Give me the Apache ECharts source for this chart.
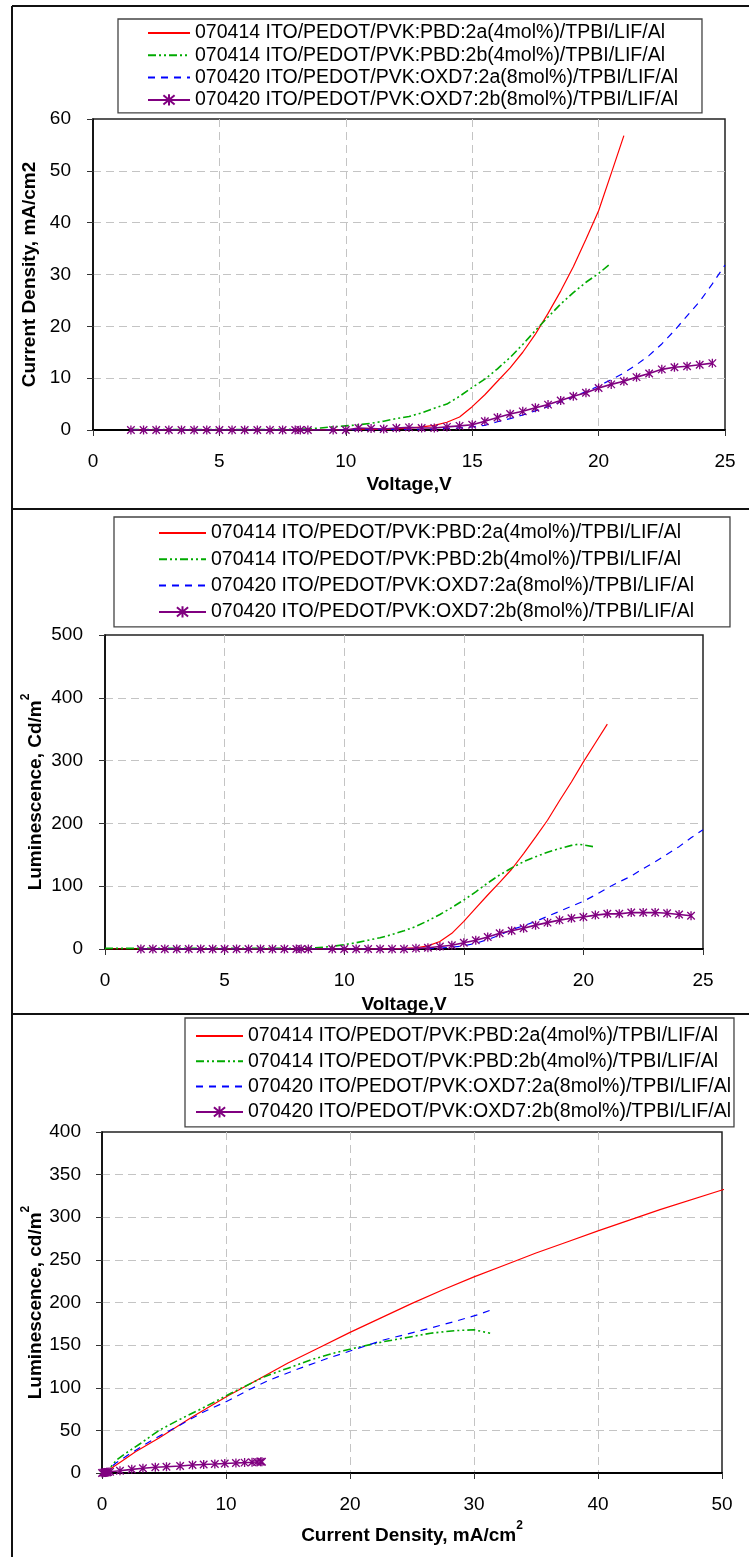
<!DOCTYPE html>
<html>
<head>
<meta charset="utf-8">
<script src="https://cdn.jsdelivr.net/npm/echarts/dist/echarts.min.js"></script>
<style>
  html, body { margin: 0; padding: 0; background: #fff; }
  #chart { width: 749px; height: 1557px; }
</style>
</head>
<body>
<div id="chart"></div>
<script>
// Device names (legend entries, shared by all three panels)
const deviceNames = [
  '070414 ITO/PEDOT/PVK:PBD:2a(4mol%)/TPBI/LIF/Al',
  '070414 ITO/PEDOT/PVK:PBD:2b(4mol%)/TPBI/LIF/Al',
  '070420 ITO/PEDOT/PVK:OXD7:2a(8mol%)/TPBI/LIF/Al',
  '070420 ITO/PEDOT/PVK:OXD7:2b(8mol%)/TPBI/LIF/Al'
];

// ---- Panel 1: current density (mA/cm2) vs voltage (V) ----
const jvRedV   = [1.5, 3, 5, 7, 8.5, 10, 11, 12, 12.5, 13, 13.5, 14, 14.5, 15, 15.5, 16, 16.5, 17, 17.5, 18, 18.5, 19, 19.5, 20, 20.5, 21];
const jvRedJ   = [0, 0, 0, 0, 0, 0.05, 0.1, 0.2, 0.35, 0.6, 0.9, 1.5, 2.5, 4.5, 6.8, 9.4, 12.0, 15.0, 18.5, 22.5, 26.8, 31.5, 36.8, 42.3, 49.5, 56.8];
const jvGreenV = [1.5, 3, 5, 7, 8.5, 9, 9.5, 10, 10.5, 11, 11.5, 12, 12.5, 13, 13.5, 14, 14.5, 15, 15.5, 16, 16.5, 17, 17.5, 18, 18.5, 19, 19.5, 20, 20.4];
const jvGreenJ = [0.1, 0.1, 0.1, 0.1, 0.2, 0.4, 0.6, 0.8, 1.0, 1.3, 1.7, 2.2, 2.6, 3.3, 4.2, 5.0, 6.5, 8.2, 9.8, 11.8, 14.0, 16.5, 19.2, 21.8, 24.3, 26.5, 28.5, 30.2, 31.8];
const jvBlueV  = [1.5, 3, 5, 7, 9, 11, 12, 13, 13.5, 14, 14.5, 15, 15.5, 16, 16.5, 17, 17.5, 18, 18.5, 19, 19.5, 20, 20.5, 21, 21.5, 22, 22.5, 23, 23.5, 24, 24.5, 25];
const jvBlueJ  = [0, 0, 0, 0, 0, 0.05, 0.1, 0.15, 0.2, 0.3, 0.4, 0.6, 0.9, 1.6, 2.2, 2.9, 3.7, 4.5, 5.4, 6.4, 7.4, 8.5, 9.7, 11.0, 12.6, 14.4, 16.6, 19.2, 22.0, 24.8, 28.2, 31.8];
const jvPurpleV = [1.5, 2, 2.5, 3, 3.5, 4, 4.5, 5, 5.5, 6, 6.5, 7, 7.5, 8, 8.2, 8.5, 9.5, 10, 10.5, 11, 11.5, 12, 12.5, 13, 13.5, 14, 14.5, 15, 15.5, 16, 16.5, 17, 17.5, 18, 18.5, 19, 19.5, 20, 20.5, 21, 21.5, 22, 22.5, 23, 23.5, 24, 24.5];
const jvPurpleJ = [0, 0, 0, 0, 0, 0, 0, 0, 0, 0, 0, 0, 0, 0, 0, 0, 0, 0, 0.4, 0.3, 0.2, 0.4, 0.5, 0.4, 0.4, 0.6, 0.8, 1.0, 1.7, 2.4, 3.1, 3.6, 4.3, 4.9, 5.7, 6.5, 7.2, 8.1, 8.8, 9.4, 10.2, 10.9, 11.7, 12.1, 12.3, 12.6, 12.9];

// ---- Panel 2: luminescence (cd/m2) vs voltage (V) ----
const lvRedV   = [0, 2, 4, 6, 8, 10, 11, 12, 12.5, 13, 13.5, 14, 14.5, 15, 15.5, 16, 16.5, 17, 17.5, 18, 18.5, 19, 19.5, 20, 20.5, 21];
const lvRedL   = [0, 0, 0, 0, 0, 0, 0, 0.5, 1, 2, 5, 12, 25, 44, 65, 86, 106, 127, 152, 178, 205, 236, 266, 298, 328, 358];
const lvGreenV = [0, 2, 4, 6, 8, 8.8, 9.5, 10, 10.5, 11, 11.5, 12, 12.5, 13, 13.5, 14, 14.5, 15, 15.5, 16, 16.5, 17, 17.5, 18, 18.5, 19, 19.5, 19.8, 20.4];
const lvGreenL = [1, 1, 1, 1, 1, 2, 4, 7, 10, 14, 18, 23, 29, 36, 45, 55, 66, 78, 91, 105, 118, 129, 139, 147, 154, 160, 165, 167, 163];
const lvBlueV  = [1.5, 4, 7, 10, 12, 13, 13.5, 14, 14.5, 15, 15.5, 16, 16.5, 17, 17.5, 18, 18.5, 19, 19.5, 20, 20.5, 21, 21.5, 22, 22.5, 23, 23.5, 24, 24.5, 25];
const lvBlueL  = [0, 0, 0, 0, 0, 0.5, 1, 1.5, 3, 5, 9, 15, 22, 31, 37, 44, 52, 60, 68, 76, 86, 97, 107, 116, 128, 139, 151, 163, 177, 190];
const lvPurpleV = jvPurpleV;
const lvPurpleL = [0, 0, 0, 0, 0, 0, 0, 0, 0, 0, 0, 0, 0, 0, 0, 0, 0, 0, 0, 0, 0, 0, 0, 1, 2, 4, 6, 10, 14, 19, 25, 29, 33, 38, 42, 46, 49, 51, 54, 56, 56, 58, 58, 58, 57, 55, 53];

// ---- Panel 3: luminescence (cd/m2) vs current density (mA/cm2) ----
const ljRedJ   = [0, 0.2, 0.6, 1.5, 2.7, 4.6, 7.3, 10.2, 12, 15, 17.5, 20, 22.5, 25, 27.5, 30, 32.5, 35, 37.5, 40, 45, 50, 56.8];
const ljRedL   = [0, 1, 4, 13, 25, 41, 66, 91, 105, 129, 147, 165, 182, 199, 215, 230, 244, 258, 271, 284, 309, 332, 358];
const ljGreenJ = [0, 0.2, 0.6, 1.15, 1.9, 3.1, 4.6, 6.15, 8.1, 10.4, 13.1, 15, 16.9, 18.8, 20.2, 22.7, 24.6, 26.5, 28.5, 30, 31.3];
const ljGreenL = [0, 1, 5, 15, 23, 34.6, 50, 62, 76, 93.5, 113, 123, 133, 141, 146, 154, 159, 164, 167, 168, 164];
const ljBlueJ  = [0, 0.4, 1.15, 2.3, 4.2, 6.15, 8.1, 10.2, 11.9, 13.5, 15.8, 18.1, 20.2, 22.7, 24.6, 26.5, 28.5, 30.4, 31.7];
const ljBlueL  = [0, 3, 12, 23, 40, 55, 71, 85, 98, 109, 122, 134, 144, 156, 163, 170, 178, 186, 193];
const ljPurpleJ = [0, 0.1, 0.2, 0.3, 0.4, 0.5, 0.65, 1.45, 2.4, 3.3, 4.3, 5.2, 6.3, 7.3, 8.2, 9.1, 9.9, 10.8, 11.5, 12.1, 12.5, 12.8, 12.9];
const ljPurpleL = [0, 0.3, 0.5, 0.7, 0.9, 1.1, 1.5, 2.7, 4.3, 5.5, 6.7, 7.4, 8.2, 9.4, 10.0, 10.6, 11.2, 11.8, 12.2, 12.6, 12.9, 13.1, 13.2];

// Axis tick settings
const voltTicks = { min: 0, max: 25, interval: 5 };
const jTicks    = { min: 0, max: 60, interval: 10 };
const lvTicks   = { min: 0, max: 500, interval: 100 };
const ljXTicks  = { min: 0, max: 50, interval: 10 };
const ljYTicks  = { min: 0, max: 400, interval: 50 };

const FONT = 'Liberation Sans, Arial, sans-serif';
const STAR = 'path://M0,0L10,10M10,0L0,10M5,-1L5,11';

const pts = (xs, ys) => xs.map((x, i) => [x, ys[i]]);

const lineLooks = [
  { color: '#ff0000', lineStyle: { width: 1.2, type: 'solid' }, symbol: 'none' },
  { color: '#00aa00', lineStyle: { width: 1.6, type: [8, 3, 2, 3, 2, 3] }, symbol: 'none' },
  { color: '#0000ff', lineStyle: { width: 1.2, type: [7, 6] }, symbol: 'none' },
  { color: '#800080', lineStyle: { width: 1.6, type: 'solid' }, symbol: STAR, symbolSize: 9 }
];

function makeSeries(gi, dataSets) {
  return dataSets.map((d, k) => {
    const look = lineLooks[k];
    return {
      name: deviceNames[k],
      type: 'line',
      xAxisIndex: gi,
      yAxisIndex: gi,
      data: d,
      color: look.color,
      symbol: look.symbol,
      symbolSize: look.symbolSize || 0,
      showSymbol: look.symbol !== 'none',
      symbolKeepAspect: true,
      itemStyle: { color: look.color, borderColor: look.color, borderWidth: 1.3 },
      lineStyle: Object.assign({ color: look.color }, look.lineStyle),
      clip: true,
      z: 2 + k
    };
  });
}

function axisBase(gi, ticks, name, gap, nameStyle, labelMargin, lineWidth) {
  return Object.assign({
    gridIndex: gi,
    type: 'value',
    name: name,
    nameLocation: 'middle',
    nameGap: gap,
    nameMoveOverlap: false,
    nameTextStyle: nameStyle,
    axisLine: { show: true, onZero: false, lineStyle: { color: '#000', width: lineWidth } },
    axisTick: { show: true, inside: false, length: 6, lineStyle: { color: '#333', width: 1 } },
    axisLabel: { fontFamily: FONT, fontSize: 19, color: '#000', margin: labelMargin },
    splitLine: { show: true, showMinLine: false, showMaxLine: false, lineStyle: { color: '#c4c4c4', width: 1, type: [8, 5] } }
  }, ticks);
}

const plainName = { fontFamily: FONT, fontSize: 19, fontWeight: 'bold', color: '#000' };
const supName = {
  rich: {
    t: { fontFamily: FONT, fontSize: 19, fontWeight: 'bold', color: '#000', lineHeight: 20 },
    s: { fontFamily: FONT, fontSize: 12, fontWeight: 'bold', color: '#000', lineHeight: 12, padding: [0, 0, 20, 0] }
  }
};

// Legend entries: the plain lines carry no marker in their key
const legendItems = deviceNames.map((n, k) =>
  lineLooks[k].symbol === 'none' ? { name: n, itemStyle: { opacity: 0 } } : { name: n });

function legendFor(left, top, gap, padding, itemWidth) {
  return {
    orient: 'vertical',
    left: left,
    top: top,
    data: legendItems,
    itemGap: gap,
    itemWidth: itemWidth,
    itemHeight: 14,
    padding: padding,
    backgroundColor: '#fff',
    borderColor: '#444',
    borderWidth: 1.3,
    borderRadius: 0,
    selectedMode: false,
    textStyle: { fontFamily: FONT, fontSize: 19.5, color: '#000', lineHeight: 20 }
  };
}

// Outer frame of the figure and dividers between the panels
const frame = [
  [12, 6, 12, 1557],
  [12, 6, 749, 6],
  [12, 509, 749, 509],
  [12, 1014, 749, 1014]
].map(s => ({
  type: 'line',
  silent: true,
  shape: { x1: s[0], y1: s[1], x2: s[2], y2: s[3] },
  style: { stroke: '#111', lineWidth: 2 }
}));

const option = {
  animation: false,
  backgroundColor: '#fff',
  graphic: frame,
  legend: [
    legendFor(118, 19, 2.3, [4, 24, 3, 29], 42),
    legendFor(114, 517, 6.3, [6, 36, 5, 44], 47),
    legendFor(185, 1018, 5.3, [8, 3, 5, 10], 47)
  ],
  grid: [
    { left: 93, top: 119, width: 632, height: 311, show: true, borderColor: '#222', borderWidth: 1.5, backgroundColor: '#fff' },
    { left: 105, top: 635, width: 598, height: 314, show: true, borderColor: '#222', borderWidth: 1.5, backgroundColor: '#fff' },
    { left: 102, top: 1132, width: 620, height: 341, show: true, borderColor: '#222', borderWidth: 1.5, backgroundColor: '#fff' }
  ],
  xAxis: [
    axisBase(0, voltTicks, 'Voltage,V', 45, plainName, 22, 2),
    axisBase(1, voltTicks, 'Voltage,V', 46, plainName, 22, 2),
    axisBase(2, ljXTicks, '{t|Current Density, mA/cm}{s|2}', 53, supName, 22, 2)
  ],
  yAxis: [
    axisBase(0, jTicks, 'Current Density, mA/cm2', 54, plainName, 22, 1.5),
    axisBase(1, lvTicks, '{t|Luminescence, Cd/m}{s|2}', 59, supName, 22, 1.5),
    axisBase(2, ljYTicks, '{t|Luminescence, cd/m}{s|2}', 56, supName, 21, 1.5)
  ],
  series: [].concat(
    makeSeries(0, [pts(jvRedV, jvRedJ), pts(jvGreenV, jvGreenJ), pts(jvBlueV, jvBlueJ), pts(jvPurpleV, jvPurpleJ)]),
    makeSeries(1, [pts(lvRedV, lvRedL), pts(lvGreenV, lvGreenL), pts(lvBlueV, lvBlueL), pts(lvPurpleV, lvPurpleL)]),
    makeSeries(2, [pts(ljRedJ, ljRedL), pts(ljGreenJ, ljGreenL), pts(ljBlueJ, ljBlueL), pts(ljPurpleJ, ljPurpleL)])
  )
};

const chart = echarts.init(document.getElementById('chart'), null, { renderer: 'canvas' });
chart.setOption(option);
</script>
</body>
</html>
